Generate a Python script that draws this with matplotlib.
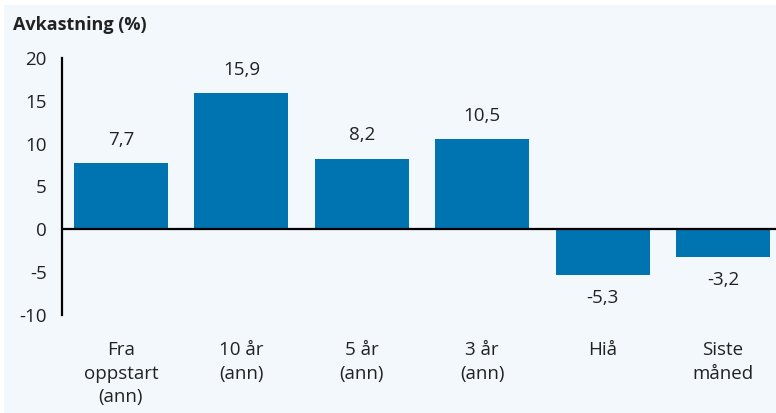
import matplotlib.pyplot as plt
from matplotlib.patches import Rectangle

# data
categories = ['Fra\noppstart\n(ann)', '10 år\n(ann)', '5 år\n(ann)', '3 år\n(ann)', 'Hiå', 'Siste\nmåned']
values = [7.7, 15.9, 8.2, 10.5, -5.3, -3.2]
value_labels = ['7,7', '15,9', '8,2', '10,5', '-5,3', '-3,2']
yticks = [-10, -5, 0, 5, 10, 15, 20]

plt.rcParams['font.family'] = ['Open Sans', 'DejaVu Sans']

fig = plt.figure(figsize=(7.76, 4.13), dpi=100)
fig.patch.set_facecolor('white')
# light panel behind the chart
fig.patches.append(Rectangle((4/776, 0), 1, 1 - 5/413, transform=fig.transFigure,
                             facecolor='#f2f8fc', edgecolor='none', zorder=-1))

ax = fig.add_axes([62/776, 1 - 315/413, 1 - 62/776, (315 - 58)/413])
ax.set_facecolor('none')

x = list(range(len(values)))
ax.bar(x, values, width=0.78, color='#0073b1', zorder=2)
ax.axhline(0, color='black', lw=1.6, zorder=3)

for xi, v, lab in zip(x, values, value_labels):
    off = 17 if v >= 0 else -17
    ax.annotate(lab, (xi, v), xytext=(0, off), textcoords='offset points',
                ha='center', va='center', fontsize=13.5, color='#222222')

ax.set_xlim(-0.49, 5.44)
ax.set_ylim(-10, 20)
ax.set_yticks(yticks)
ax.set_yticklabels([str(t) for t in yticks])
ax.set_xticks(x)
ax.set_xticklabels(categories, linespacing=1.38)

for s in ['top', 'right', 'bottom']:
    ax.spines[s].set_visible(False)
ax.spines['left'].set_linewidth(1.6)
ax.tick_params(axis='y', length=0, pad=11, labelsize=13.5, labelcolor='#222222')
ax.tick_params(axis='x', length=0, pad=19, labelsize=13.5, labelcolor='#222222')

fig.text(13/776, 1 - 25/413, 'Avkastning (%)', fontsize=13, fontweight='bold',
         ha='left', va='center', color='#222222')

fig.savefig('out.png', dpi=100)
